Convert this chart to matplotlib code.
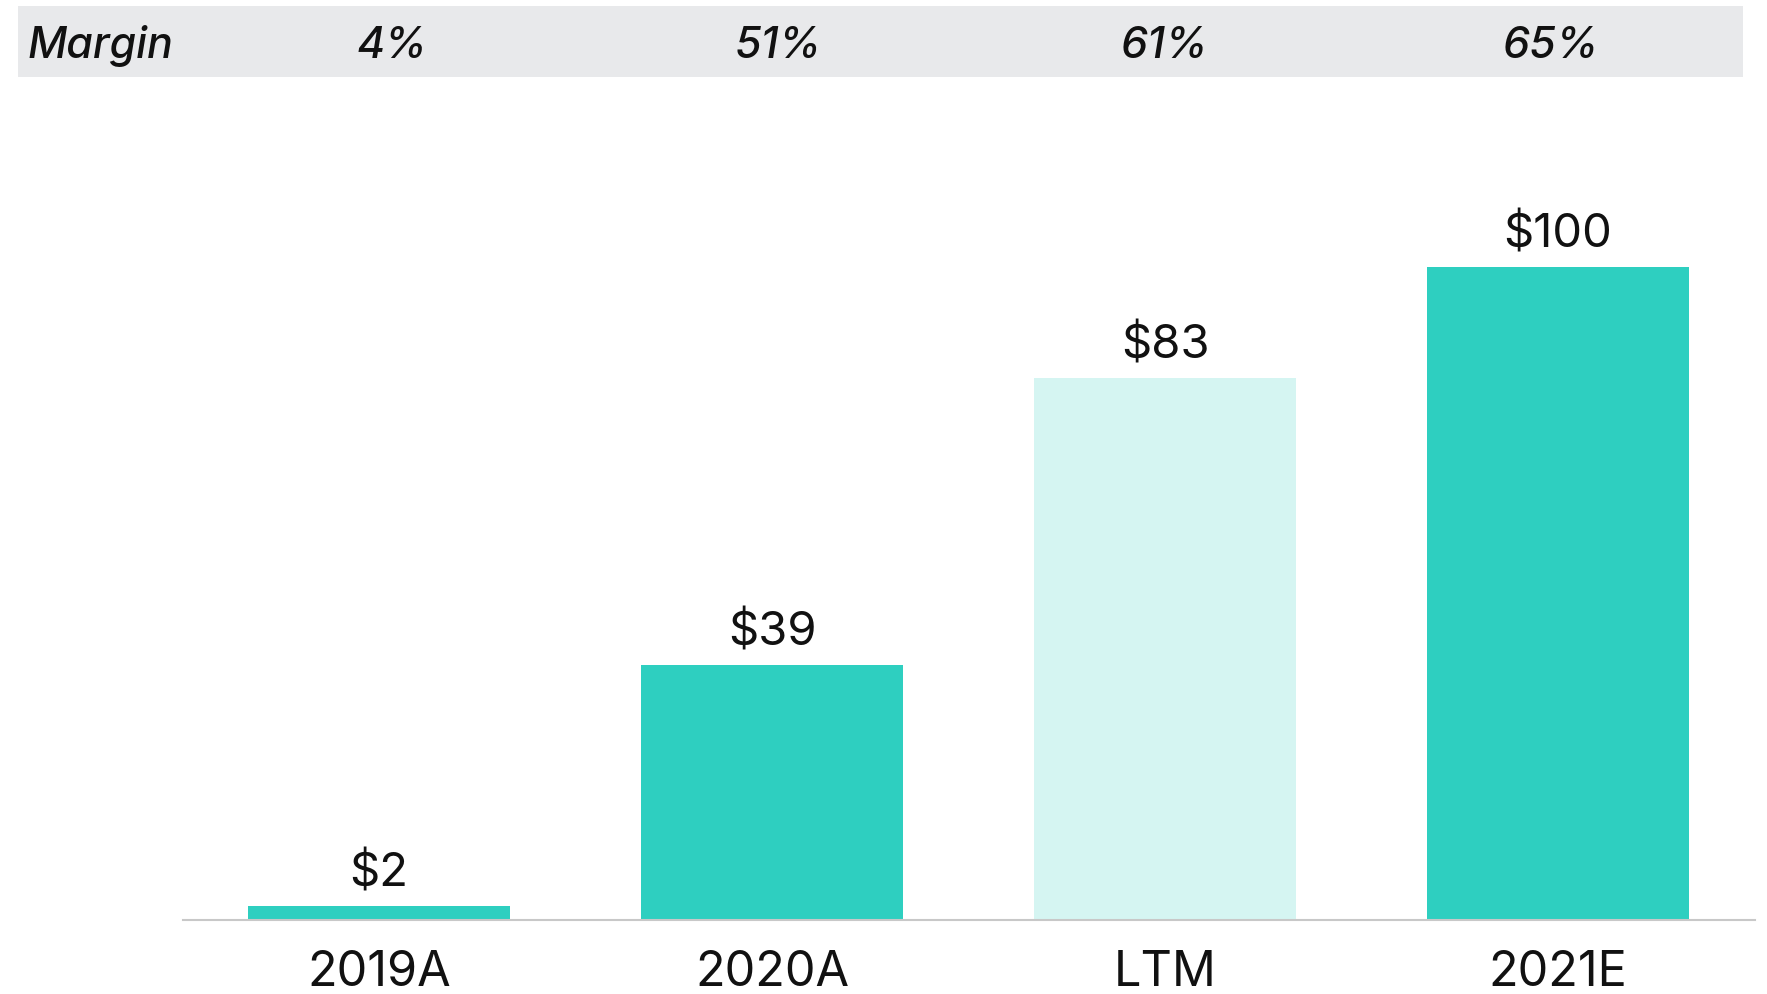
import matplotlib
matplotlib.use("Agg")
import matplotlib.pyplot as plt
from matplotlib.patches import Rectangle

categories = ["2019A", "2020A", "LTM", "2021E"]
values = [2, 39, 83, 100]
value_labels = ["$2", "$39", "$83", "$100"]
margins = ["4%", "51%", "61%", "65%"]
bar_colors = ["#2ECFC0", "#2ECFC0", "#D5F5F2", "#2ECFC0"]

plt.rcParams['font.family'] = ['Inter', 'DejaVu Sans']

fig = plt.figure(figsize=(17.67, 9.94), dpi=100)
ax = fig.add_axes([0.1033, 0.0749, 0.8897, 0.8245])

x = list(range(len(categories)))
ax.bar(x, values, width=0.665, color=bar_colors, zorder=2)
ax.set_xlim(-0.5, 3.5)
ax.set_ylim(0, 125.6)

for xi, v, lab in zip(x, values, value_labels):
    ax.annotate(lab, (xi, v), xytext=(0, 7), textcoords="offset points",
                ha="center", va="bottom", fontsize=34, color="#111111")

ax.set_xticks(x)
ax.set_xticklabels(categories, fontsize=35, color="#111111")
ax.tick_params(axis="x", length=0, pad=22)
ax.set_yticks([])
for s in ["top", "right", "left"]:
    ax.spines[s].set_visible(False)
ax.spines["bottom"].set_color("#C8C8C8")
ax.spines["bottom"].set_linewidth(1.5)

# margin band
band = Rectangle((0.0102, 0.923), 0.976, 0.0714, transform=fig.transFigure,
                 facecolor="#E8E9EB", edgecolor="none", zorder=-5)
fig.patches.append(band)
row_y = 0.9533
fig.text(0.0158, row_y, "Margin", fontsize=31, style="italic", fontweight="medium",
         ha="left", va="center", color="#111111")
for i, m in enumerate(margins):
    fig.text(0.2219 + i * 0.2185, row_y, m, fontsize=31, style="italic",
             fontweight="medium", ha="center", va="center", color="#111111")

fig.savefig("out.png", dpi=100)
